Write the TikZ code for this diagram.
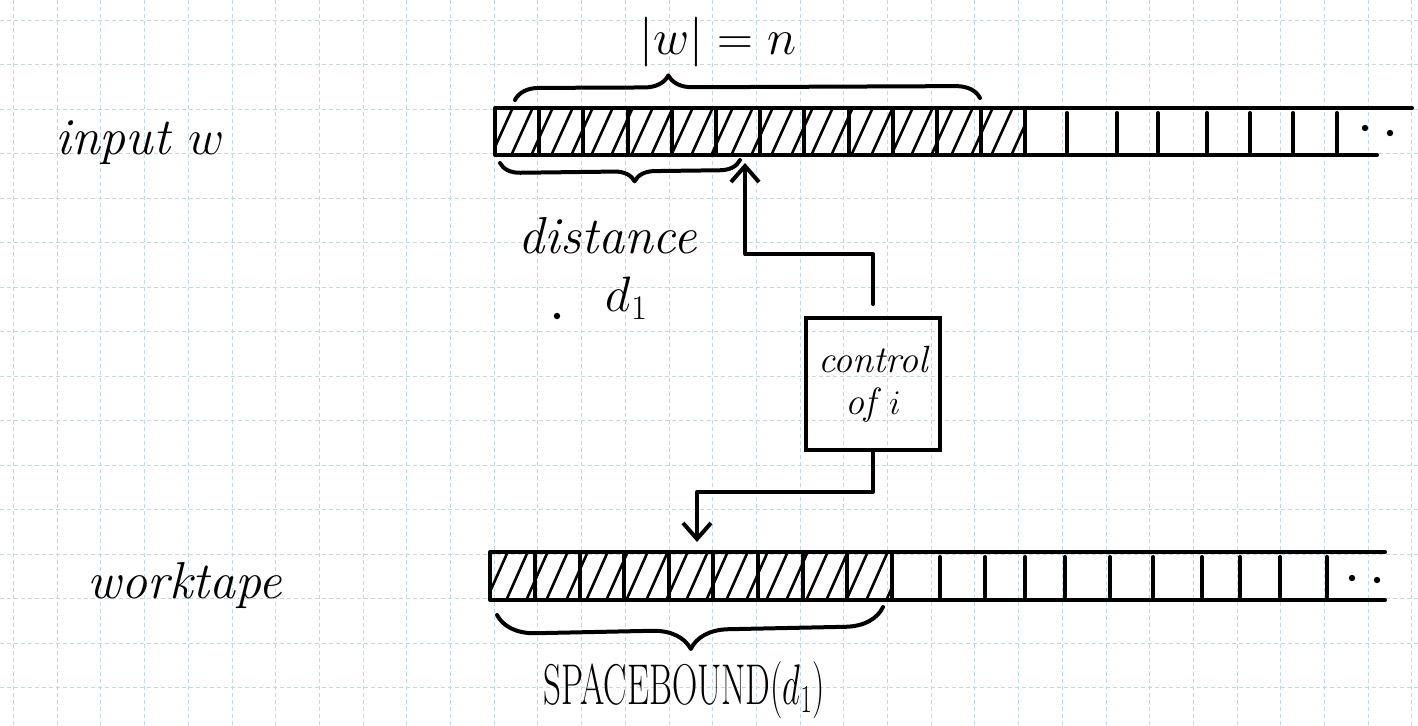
\documentclass[tikz,border=0pt]{standalone}
\usetikzlibrary{arrows.meta,decorations.pathreplacing}
\begin{document}
\begin{tikzpicture}[x=0.5pt,y=-0.5pt,
 pen/.style={line width=2pt,line cap=round,line join=round},
 hatch/.style={line width=1.3pt,line cap=round},
 gridln/.style={line width=0.5pt,draw={rgb,255:red,190;green,218;blue,226},dash pattern=on 2pt off 1.5pt},
 arr/.style={pen,-{Straight Barb[length=8pt,width=14pt,line width=2pt]}},
 hand/.style={font=\itshape\fontsize{26}{30}\selectfont,inner sep=0pt},
 ctrlbox/.style={draw,line width=2pt,minimum width=67pt,minimum height=66pt,align=center,inner sep=1pt,font=\itshape\fontsize{19}{21}\selectfont},
 brc/.style={pen,decorate,decoration={brace,amplitude=#1}}
 ]
\useasboundingbox[fill=white] (0,0) rectangle (1418,725);
% grid paper
\foreach \i in {0,...,32} \draw[gridln] ({13.5+43.7*\i},0) -- ({13.5+43.7*\i},725);
\foreach \j in {0,...,16} \draw[gridln] (0,{20+44.5*\j}) -- (1418,{20+44.5*\j});

% ---------- input tape ----------
\begin{scope}
\clip (495,108) rectangle (1025,155);
\foreach \x in {470,490,...,1030} \draw[hatch] (\x,158) -- ({\x+24},105);
\end{scope}
\draw[pen] (1412,108) -- (495,108) -- (495,155) -- (1377,155);
\foreach \x in {539,583,628,672,716,760,804,849,893,937,981,1025} \draw[pen] (\x,108) -- (\x,155);
\foreach \x in {1067,1117,1158,1207,1250,1293,1337} \draw[pen] (\x,113) -- (\x,152);
\fill (1365,128) circle (1.6pt);
\fill (1390,133) circle (1.6pt);

% ---------- work tape ----------
\begin{scope}
\clip (490,552) rectangle (892,600);
\foreach \x in {465,485,...,900} \draw[hatch] (\x,603) -- ({\x+24},549);
\end{scope}
\draw[pen] (1385,552) -- (490,552) -- (490,600) -- (1385,600);
\foreach \x in {535,580,624,669,713,758,803,847,892} \draw[pen] (\x,552) -- (\x,600);
\foreach \x in {940,985,1025,1065,1110,1153,1202,1240,1280,1327} \draw[pen] (\x,557) -- (\x,597);
\fill (1352,578) circle (1.6pt);
\fill (1377,580) circle (1.6pt);

% ---------- braces ----------
\draw[brc=12pt,decoration={aspect=0.33}] (515,100) -- (980,98);
\draw[brc=10pt,decoration={aspect=0.44}] (740,160) -- (500,163);
\draw[brc=19pt,decoration={aspect=0.5}] (883,607) -- (497,615);

% ---------- labels ----------
\node[hand] (inlab) at (140,143) {input $w$};
\node[hand] (wlen) at (718,42) {$|w| = n$};
\node[hand] (dist) at (608,236) {distance};
\node[hand] (dd) at (627,298) {$d_1$};
\fill (557,316) circle (1.6pt);
\node[hand] (wlab) at (185,585) {worktape};
\node[font=\fontsize{25}{28}\selectfont,inner sep=0pt] (sb) at (684,690) {\scalebox{0.7}[1.15]{SPACEBOUND$(d_1)$}};

% ---------- control ----------
\node[ctrlbox] (ctrl) at (873,384) {control\\of $i$};
\coordinate (ia) at (745,163);
\coordinate (wa) at (697,542);
\draw[arr] ([yshift=6pt]ctrl.north) -- ++(0,-50) -| (ia);
\draw[arr] (ctrl.south) -- ++(0,40) -| (wa);
\end{tikzpicture}
\end{document}
